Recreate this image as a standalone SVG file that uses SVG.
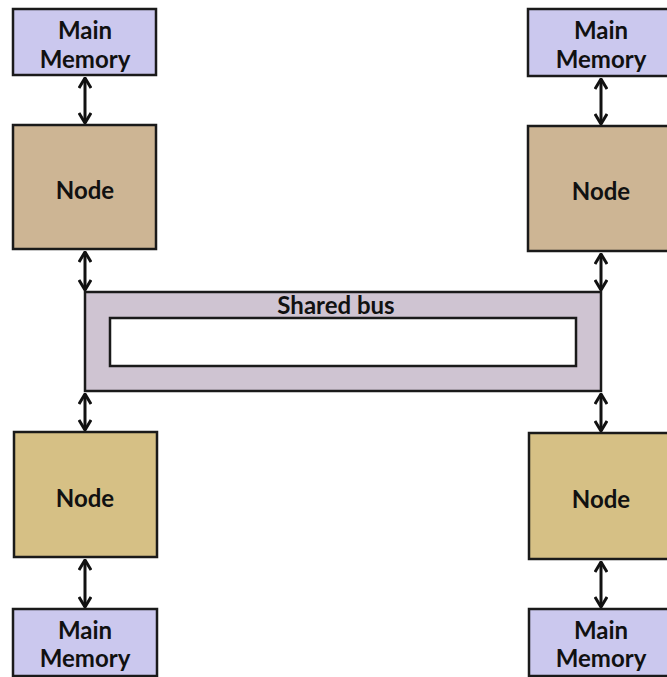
<svg xmlns="http://www.w3.org/2000/svg" width="667" height="677" viewBox="0 0 667 677">
  <style>
    .box { stroke: #1a1a1a; stroke-width: 2.5; }
    .mem { fill: #cbc8ee; }
    .node-top { fill: #cdb594; }
    .node-bot { fill: #d6c085; }
    .bus { fill: #cfc4d2; }
    .label { font-family: Lato, "Open Sans", "Liberation Sans", sans-serif; font-weight: bold; font-size: 24px; fill: #111; text-anchor: middle; }
    .link { stroke: #111; stroke-width: 3; fill: none; marker-start: url(#head); marker-end: url(#head); }
  </style>
  <defs>
    <marker id="head" viewBox="0 0 12 14" refX="11" refY="7" markerWidth="12" markerHeight="14" markerUnits="userSpaceOnUse" orient="auto-start-reverse">
      <path d="M1,1 L11,7 L1,13" fill="none" stroke="#111" stroke-width="3" stroke-linejoin="miter"/>
    </marker>
  </defs>

  <rect width="667" height="677" fill="#ffffff"/>

  <!-- shared bus -->
  <g id="shared-bus">
    <rect class="box bus" x="85" y="292" width="516" height="99"/>
    <rect class="box" fill="#ffffff" x="110" y="318" width="466" height="48"/>
    <text class="label" x="336" y="314">Shared bus</text>
  </g>

  <!-- memories -->
  <g id="mem-tl">
    <rect class="box mem" x="13" y="9" width="143" height="66"/>
    <text class="label" x="85" y="39">Main</text>
    <text class="label" x="85" y="68">Memory</text>
  </g>
  <g id="mem-tr">
    <rect class="box mem" x="528" y="9" width="143" height="67"/>
    <text class="label" x="601" y="39">Main</text>
    <text class="label" x="601" y="68">Memory</text>
  </g>
  <g id="mem-bl">
    <rect class="box mem" x="13" y="609" width="144" height="67"/>
    <text class="label" x="85" y="639">Main</text>
    <text class="label" x="85" y="667">Memory</text>
  </g>
  <g id="mem-br">
    <rect class="box mem" x="529" y="609" width="144" height="67"/>
    <text class="label" x="601" y="639">Main</text>
    <text class="label" x="601" y="667">Memory</text>
  </g>

  <!-- nodes -->
  <g id="node-tl">
    <rect class="box node-top" x="13" y="125" width="143" height="124"/>
    <text class="label" x="85" y="199">Node</text>
  </g>
  <g id="node-tr">
    <rect class="box node-top" x="528" y="126" width="143" height="125"/>
    <text class="label" x="601" y="200">Node</text>
  </g>
  <g id="node-bl">
    <rect class="box node-bot" x="14" y="432" width="143" height="125"/>
    <text class="label" x="85" y="507">Node</text>
  </g>
  <g id="node-br">
    <rect class="box node-bot" x="529" y="433" width="143" height="126"/>
    <text class="label" x="601" y="508">Node</text>
  </g>

  <!-- connectors -->
  <g id="connectors">
    <line class="link" x1="85" y1="78" x2="85" y2="123"/>
    <line class="link" x1="85" y1="252" x2="85" y2="290"/>
    <line class="link" x1="85" y1="394" x2="85" y2="430"/>
    <line class="link" x1="85" y1="560" x2="85" y2="607"/>
    <line class="link" x1="601" y1="79" x2="601" y2="124"/>
    <line class="link" x1="601" y1="254" x2="601" y2="290"/>
    <line class="link" x1="601" y1="394" x2="601" y2="431"/>
    <line class="link" x1="601" y1="562" x2="601" y2="607"/>
  </g>
</svg>
